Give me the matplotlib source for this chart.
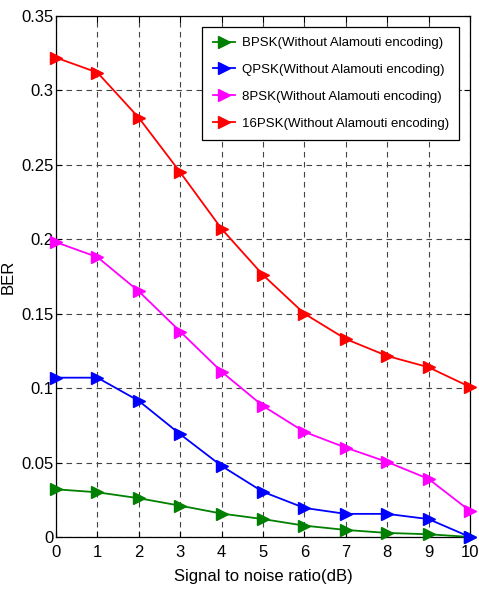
import matplotlib
matplotlib.use("Agg")
from matplotlib import pyplot as plt

snr = [0, 1, 2, 3, 4, 5, 6, 7, 8, 9, 10]
ber_bpsk = [0.032, 0.030, 0.026, 0.021, 0.0157, 0.012, 0.0076, 0.0047, 0.0027, 0.0018, 0.0]
ber_qpsk = [0.107, 0.107, 0.0914, 0.069, 0.0477, 0.0303, 0.0195, 0.0155, 0.0155, 0.012, 0.0]
ber_8psk = [0.198, 0.188, 0.165, 0.138, 0.111, 0.088, 0.0706, 0.060, 0.0504, 0.039, 0.0175]
ber_16psk = [0.322, 0.312, 0.2816, 0.245, 0.207, 0.176, 0.150, 0.133, 0.1216, 0.114, 0.1008]

labels = ["BPSK(Without Alamouti encoding)", "QPSK(Without Alamouti encoding)",
          "8PSK(Without Alamouti encoding)", "16PSK(Without Alamouti encoding)"]
colors = ["#008000", "#0000ff", "#ff00ff", "#ff0000"]
yticks = [0, 0.05, 0.1, 0.15, 0.2, 0.25, 0.3, 0.35]
ytick_labels = ["0", "0.05", "0.1", "0.15", "0.2", "0.25", "0.3", "0.35"]

plt.rcParams['font.family'] = ['Liberation Sans', 'DejaVu Sans']

fig = plt.figure(figsize=(4.79, 5.92), dpi=100)
ax = fig.add_axes([0.117, 0.093, 0.864, 0.880])

for ber, lab, col in zip([ber_bpsk, ber_qpsk, ber_8psk, ber_16psk], labels, colors):
    ax.plot(snr, ber, color=col, marker='>', markersize=9, linewidth=1.3,
            label=lab, clip_on=False, zorder=3)

ax.set_xlim(0, 10)
ax.set_ylim(0, 0.35)
ax.set_xticks(snr)
ax.set_yticks(yticks)
ax.set_yticklabels(ytick_labels)
ax.tick_params(direction='in', top=True, right=True, labelsize=12, length=4, width=0.8)
ax.tick_params(axis='x', pad=6)
ax.tick_params(axis='y', pad=2)
ax.grid(True, linestyle=(0, (5, 4)), color='#444444', linewidth=0.8)
for sp in ax.spines.values():
    sp.set_linewidth(0.9)

ax.set_xlabel('Signal to noise ratio(dB)', fontsize=12, labelpad=6)
ax.set_ylabel('BER', fontsize=12, labelpad=4)

leg = ax.legend(loc='upper right', fontsize=9.5, fancybox=False, framealpha=1,
                edgecolor='black', borderaxespad=0.8, handlelength=1.7,
                labelspacing=1.1, borderpad=0.8, handletextpad=0.5)
leg.get_frame().set_linewidth(0.9)

fig.savefig("out.png", dpi=100)
